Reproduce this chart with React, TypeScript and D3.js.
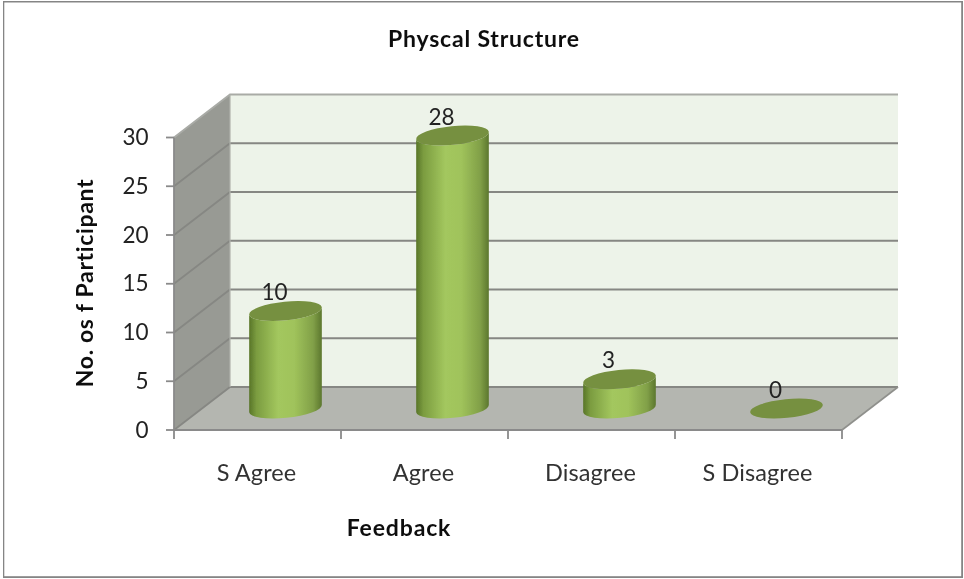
import React from "react";
import * as d3 from "d3";

const categories = ["S Agree", "Agree", "Disagree", "S Disagree"];
const values = [10, 28, 3, 0];
const yTicks = [0, 5, 10, 15, 20, 25, 30];
const chartTitle = "Physcal Structure";
const xTitle = "Feedback";
const yTitle = "No. os f Participant";

const W = 964;
const H = 579;
const left = 174;
const right = 842;
const bottom = 430;
const top = 137.5;
const depthX = 56;
const depthY = -43;

const y = d3.scaleLinear().domain([0, 30]).range([bottom, top]);
const x = d3.scaleBand().domain(categories).range([left, right]).padding(0);
const line = d3.line();
const poly = (pts: [number, number][]) => line(pts) + "Z";

const rx = 36.5;
const ry = 9.4;
const tilt = -5.8;
const rad = (tilt * Math.PI) / 180;
const cosT = Math.cos(rad);
const sinT = Math.sin(rad);

function Cylinder({ cat, value }: { cat: string; value: number }) {
  const cx = x(cat)! + x.bandwidth() / 2 + depthX / 2;
  const by = y(0) + depthY / 2;
  const ty = y(value) + depthY / 2;
  const dx = rx * cosT;
  const dy = rx * sinT;
  const body =
    `M${cx - dx},${ty - dy}` +
    `L${cx - dx},${by - dy}` +
    `A${rx},${ry} ${tilt} 0 0 ${cx + dx},${by + dy}` +
    `L${cx + dx},${ty + dy}` +
    `A${rx},${ry} ${tilt} 0 1 ${cx - dx},${ty - dy}Z`;
  return (
    <g>
      {value > 0 && <path d={body} fill="url(#cyl)" />}
      <ellipse
        cx={cx}
        cy={ty}
        rx={rx}
        ry={ry}
        transform={`rotate(${tilt} ${cx} ${ty})`}
        fill="#76903f"
      />
      <text
        x={cx - 11}
        y={ty - 11}
        textAnchor="middle"
        fontFamily="Lato"
        fontSize={22.5}
        fill="#222"
      >
        {value}
      </text>
    </g>
  );
}

export default function App() {
  return (
    <svg
      width={W}
      height={H}
      viewBox={`0 0 ${W} ${H}`}
      style={{ position: "absolute", left: 0, top: 0, background: "#fff" }}
    >
      <defs>
        <linearGradient id="cyl" x1="0" x2="1" y1="0" y2="0">
          <stop offset="0" stopColor="#587528" />
          <stop offset="0.1" stopColor="#7b9c40" />
          <stop offset="0.4" stopColor="#a3c75e" />
          <stop offset="0.62" stopColor="#a0c35b" />
          <stop offset="0.88" stopColor="#81a048" />
          <stop offset="1" stopColor="#5c772d" />
        </linearGradient>
        <filter id="soft" x="0" y="0" width="100%" height="100%">
          <feGaussianBlur stdDeviation="0.5" />
        </filter>
      </defs>
      <g filter="url(#soft)">
        <rect x={3} y={1.2} width={959.5} height={576.3} fill="#fff" stroke="#858585" strokeWidth={2.6} />

        {/* back wall */}
        <path
          d={poly([
            [left + depthX, y(30) + depthY],
            [right + depthX, y(30) + depthY],
            [right + depthX, y(0) + depthY],
            [left + depthX, y(0) + depthY],
          ])}
          fill="#edf3e9"
        />
        {/* side wall */}
        <path
          d={poly([
            [left, y(0)],
            [left, y(30)],
            [left + depthX, y(30) + depthY],
            [left + depthX, y(0) + depthY],
          ])}
          fill="#989a94"
        />
        {/* floor */}
        <path
          d={poly([
            [left, y(0)],
            [right, y(0)],
            [right + depthX, y(0) + depthY],
            [left + depthX, y(0) + depthY],
          ])}
          fill="#b4b6b0"
        />

        {/* gridlines */}
        {yTicks.map((t) => (
          <path
            key={t}
            d={line([
              [left, y(t)],
              [left + depthX, y(t) + depthY],
              [right + depthX, y(t) + depthY],
            ])!}
            fill="none"
            stroke={t === 30 ? "#a9aba6" : "#868783"}
            strokeWidth={1.8}
          />
        ))}
        <path
          d={line([
            [right, y(0)],
            [right + depthX, y(0) + depthY],
          ])!}
          fill="none"
          stroke="#8f908c"
          strokeWidth={1.6}
        />
        <path
          d={line([
            [left + depthX, y(0) + depthY],
            [left + depthX, y(30) + depthY],
          ])!}
          fill="none"
          stroke="#b0b2ac"
          strokeWidth={1.2}
        />

        {/* axes */}
        <path d={line([[left, y(30)], [left, y(0)], [right, y(0)]])!} fill="none" stroke="#8a8a8a" strokeWidth={1.8} />
        {yTicks.map((t) => (
          <line key={t} x1={left - 8} x2={left} y1={y(t)} y2={y(t)} stroke="#8a8a8a" strokeWidth={1.8} />
        ))}
        {[...categories.map((c) => x(c)!), right].map((p) => (
          <line key={p} x1={p} x2={p} y1={bottom} y2={bottom + 9} stroke="#8a8a8a" strokeWidth={1.8} />
        ))}

        {/* cylinders */}
        {categories.map((c, i) => (
          <Cylinder key={c} cat={c} value={values[i]} />
        ))}

        {/* tick labels */}
        {yTicks.map((t) => (
          <text key={t} x={148.5} y={y(t) + 7.5} textAnchor="end" fontFamily="Lato" fontSize={22.5} fill="#222">
            {t}
          </text>
        ))}
        {categories.map((c) => (
          <text
            key={c}
            x={x(c)! + x.bandwidth() / 2 - 1}
            y={481}
            textAnchor="middle"
            fontFamily="Lato"
            fontSize={23.5}
            letterSpacing={0.1}
            fill="#333"
          >
            {c}
          </text>
        ))}

        {/* titles */}
        <text x={484} y={47} textAnchor="middle" fontFamily="Lato" fontWeight={700} fontSize={23} letterSpacing={0.8} fill="#111">
          {chartTitle}
        </text>
        <text x={399} y={536} textAnchor="middle" fontFamily="Lato" fontWeight={700} fontSize={23} letterSpacing={0.85} fill="#111">
          {xTitle}
        </text>
        <text
          transform="translate(93,283) rotate(-90)"
          textAnchor="middle"
          fontFamily="Lato"
          fontWeight={700}
          fontSize={23}
          letterSpacing={0.65}
          fill="#111"
        >
          {yTitle}
        </text>
      </g>
    </svg>
  );
}
